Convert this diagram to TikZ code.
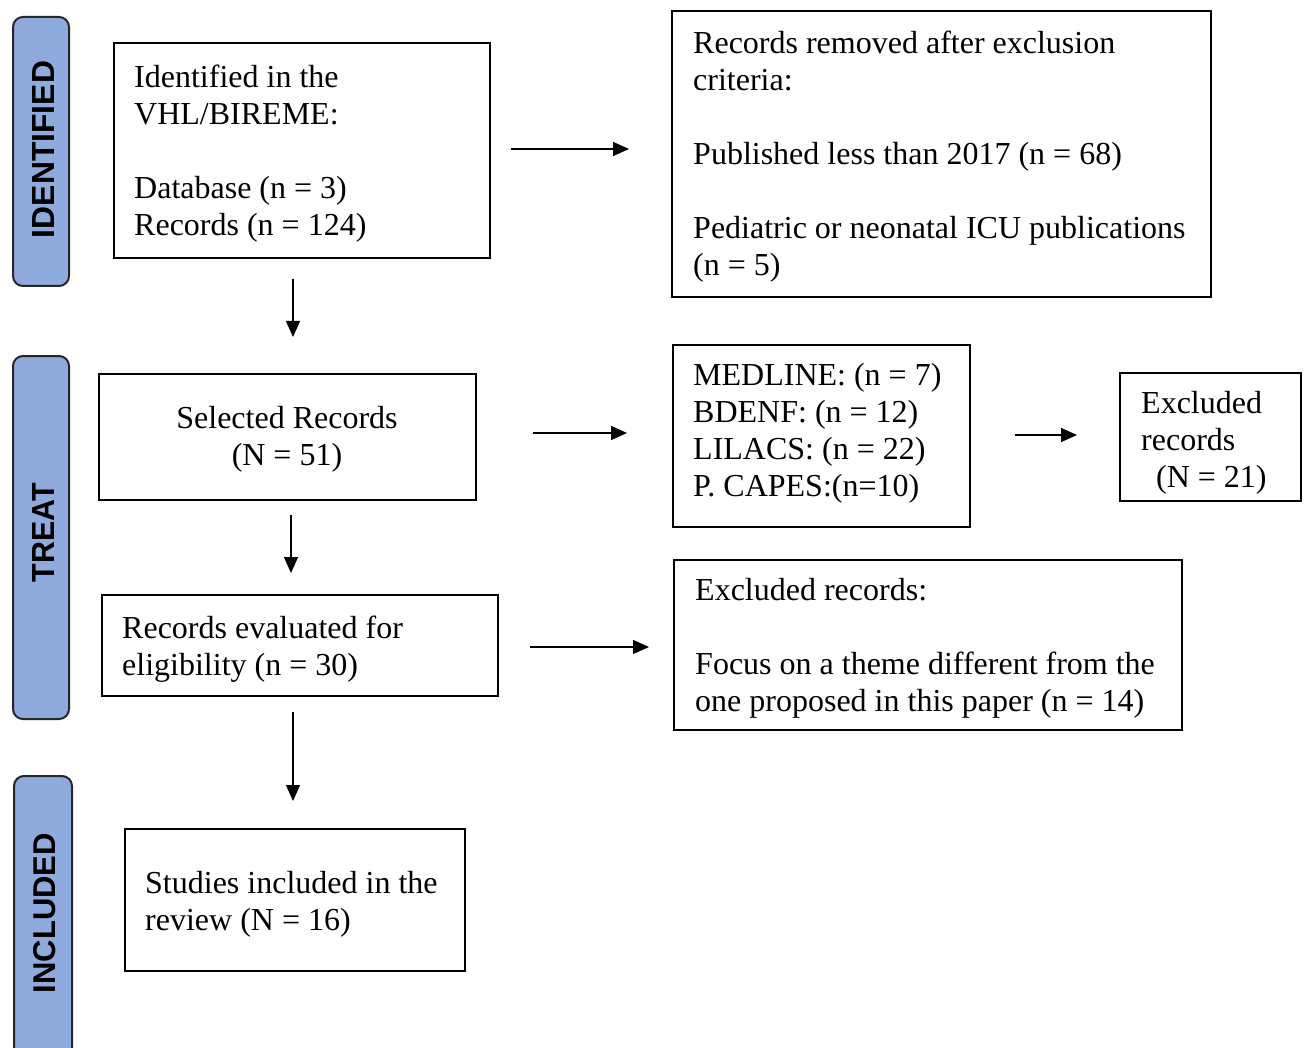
\documentclass[tikz,border=0pt]{standalone}
\usepackage{fontspec}
\setmainfont{Liberation Serif}
\setsansfont{Liberation Sans}
\usetikzlibrary{arrows.meta}
\definecolor{barblue}{HTML}{8FAADC}
\tikzset{
  box/.style={draw=black, line width=2pt, inner sep=0pt, anchor=north west},
  bar/.style={draw=black!85, fill=barblue, line width=2pt, rounded corners=10pt, inner sep=0pt, anchor=north west},
  txt/.style={inner sep=0pt, anchor=base west, font=\fontsize{32}{37}\selectfont},
  arr/.style={-{Triangle[length=16pt,width=14pt]}, line width=1.4pt},
  lab/.style={rotate=90, inner sep=0pt}
}
\newcommand{\tb}[1]{\parbox[t]{620pt}{\raggedright #1}}
\begin{document}
\begin{tikzpicture}[x=1pt,y=-1pt]
\useasboundingbox (0,0) rectangle (1308,1048);
\clip (0,0) rectangle (1308,1048);
\fill[white] (0,0) rectangle (1308,1048);
% side bars
\node[bar, minimum width=56, minimum height=269] (barI) at (12,16) {};
\node[bar, minimum width=56, minimum height=363] (barT) at (12,355) {};
\node[bar, minimum width=58, minimum height=300] (barC) at (13,775) {};
\node[lab] (lI) at (43.5,149.5) {\resizebox{177pt}{22pt}{\sffamily\bfseries IDENTIFIED}};
\node[lab] (lT) at (43.5,532.5) {\resizebox{99pt}{22pt}{\sffamily\bfseries TREAT}};
\node[lab] (lC) at (44.5,913) {\resizebox{160pt}{22pt}{\sffamily\bfseries INCLUDED}};
% boxes
\node[box, minimum width=376, minimum height=215] (b1) at (113,42) {};
\node[box, minimum width=539, minimum height=286] (b2) at (671,10) {};
\node[box, minimum width=377, minimum height=126] (b3) at (98,373) {};
\node[box, minimum width=297, minimum height=182] (b4) at (672,344) {};
\node[box, minimum width=181, minimum height=128] (b5) at (1119,372) {};
\node[box, minimum width=396, minimum height=101] (b6) at (101,594) {};
\node[box, minimum width=508, minimum height=170] (b7) at (673,559) {};
\node[box, minimum width=340, minimum height=142] (b8) at (124,828) {};
% texts
\node[txt] (t1) at (134,88) {\tb{Identified in the\\VHL/BIREME:\\[37pt]Database (n = 3)\\Records (n = 124)}};
\node[txt] (t2) at (693,54) {\tb{Records removed after exclusion\\criteria:\\[37pt]Published less than 2017 (n = 68)\\[37pt]Pediatric or neonatal ICU publications\\(n = 5)}};
\node[txt, anchor=base] (t3) at (287,428) {\parbox[t]{360pt}{\centering Selected Records\\(N = 51)}};
\node[txt] (t4) at (693,385) {\tb{MEDLINE: (n = 7)\\BDENF: (n = 12)\\LILACS: (n = 22)\\P. CAPES:(n=10)}};
\node[txt] (t5) at (1141,413) {\tb{Excluded\\records\\\hspace*{15pt}(N = 21)}};
\node[txt] (t6) at (122,638) {\tb{Records evaluated for\\eligibility (n = 30)}};
\node[txt] (t7) at (695,600) {\tb{Excluded records:\\[37pt]Focus on a theme different from the\\one proposed in this paper (n = 14)}};
\node[txt] (t8) at (145,893) {\tb{Studies included in the\\review (N = 16)}};
% arrow endpoints
\coordinate (a1s) at (511,149); \coordinate (a1e) at (629,149);
\coordinate (a2s) at (293,279); \coordinate (a2e) at (293,337);
\coordinate (a3s) at (533,433); \coordinate (a3e) at (627,433);
\coordinate (a4s) at (1015,435); \coordinate (a4e) at (1077,435);
\coordinate (a5s) at (291,515); \coordinate (a5e) at (291,573);
\coordinate (a6s) at (530,647); \coordinate (a6e) at (649,647);
\coordinate (a7s) at (293,712); \coordinate (a7e) at (293,801);
\draw[arr] (a1s) -- (a1e);
\draw[arr] (a2s) -- (a2e);
\draw[arr] (a3s) -- (a3e);
\draw[arr] (a4s) -- (a4e);
\draw[arr] (a5s) -- (a5e);
\draw[arr] (a6s) -- (a6e);
\draw[arr] (a7s) -- (a7e);
\end{tikzpicture}
\end{document}
